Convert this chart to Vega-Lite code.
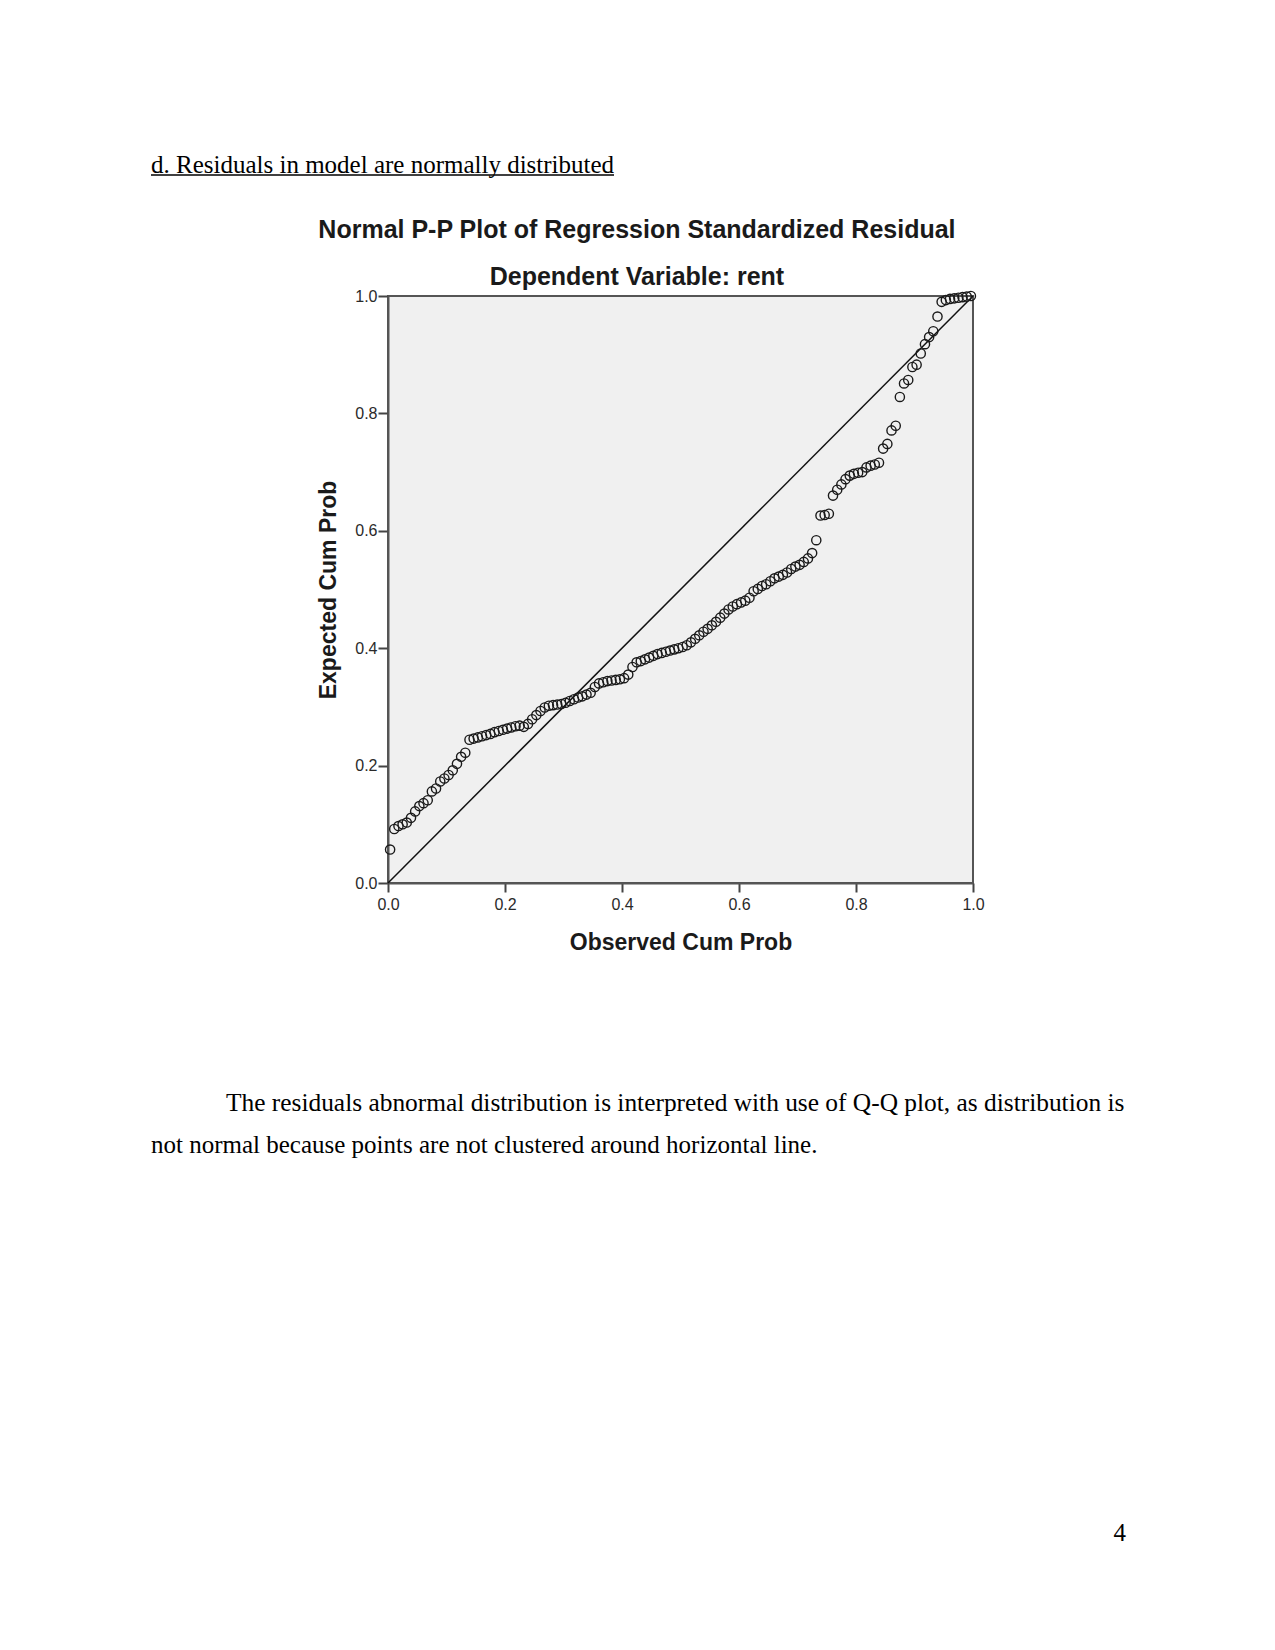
{
"$schema": "https://vega.github.io/schema/vega-lite/v6.json",
"background": "white",
"autosize": {"type": "pad"},
"padding": {"left": 150, "top": 153, "right": 150, "bottom": 106},
"spacing": 0,
"config": {"view": {"stroke": null}, "font": "Liberation Sans"},
"datasets": {
"pp": [
{"obs":0.0036,"exp":0.057},{"obs":0.0107,"exp":0.092},{"obs":0.0179,"exp":0.097},{"obs":0.0250,"exp":0.100},{"obs":0.0321,"exp":0.103},
{"obs":0.0393,"exp":0.111},{"obs":0.0464,"exp":0.122},{"obs":0.0536,"exp":0.131},{"obs":0.0607,"exp":0.136},{"obs":0.0679,"exp":0.141},
{"obs":0.0750,"exp":0.156},{"obs":0.0821,"exp":0.161},{"obs":0.0893,"exp":0.173},{"obs":0.0964,"exp":0.178},{"obs":0.1036,"exp":0.184},
{"obs":0.1107,"exp":0.192},{"obs":0.1179,"exp":0.203},{"obs":0.1250,"exp":0.215},{"obs":0.1321,"exp":0.222},{"obs":0.1393,"exp":0.244},
{"obs":0.1464,"exp":0.246},{"obs":0.1536,"exp":0.248},{"obs":0.1607,"exp":0.250},{"obs":0.1679,"exp":0.252},{"obs":0.1750,"exp":0.254},
{"obs":0.1821,"exp":0.257},{"obs":0.1893,"exp":0.259},{"obs":0.1964,"exp":0.261},{"obs":0.2036,"exp":0.263},{"obs":0.2107,"exp":0.265},
{"obs":0.2179,"exp":0.267},{"obs":0.2250,"exp":0.268},{"obs":0.2321,"exp":0.266},{"obs":0.2393,"exp":0.271},{"obs":0.2464,"exp":0.279},
{"obs":0.2536,"exp":0.286},{"obs":0.2607,"exp":0.293},{"obs":0.2679,"exp":0.299},{"obs":0.2750,"exp":0.302},{"obs":0.2821,"exp":0.303},
{"obs":0.2893,"exp":0.304},{"obs":0.2964,"exp":0.305},{"obs":0.3036,"exp":0.307},{"obs":0.3107,"exp":0.310},{"obs":0.3179,"exp":0.313},
{"obs":0.3250,"exp":0.316},{"obs":0.3321,"exp":0.318},{"obs":0.3393,"exp":0.321},{"obs":0.3464,"exp":0.324},{"obs":0.3536,"exp":0.334},
{"obs":0.3607,"exp":0.340},{"obs":0.3679,"exp":0.342},{"obs":0.3750,"exp":0.344},{"obs":0.3821,"exp":0.345},{"obs":0.3893,"exp":0.346},
{"obs":0.3964,"exp":0.347},{"obs":0.4036,"exp":0.349},{"obs":0.4107,"exp":0.355},{"obs":0.4179,"exp":0.368},{"obs":0.4250,"exp":0.376},
{"obs":0.4321,"exp":0.378},{"obs":0.4393,"exp":0.381},{"obs":0.4464,"exp":0.384},{"obs":0.4536,"exp":0.387},{"obs":0.4607,"exp":0.390},
{"obs":0.4679,"exp":0.392},{"obs":0.4750,"exp":0.394},{"obs":0.4821,"exp":0.396},{"obs":0.4893,"exp":0.398},{"obs":0.4964,"exp":0.400},
{"obs":0.5036,"exp":0.402},{"obs":0.5107,"exp":0.405},{"obs":0.5179,"exp":0.410},{"obs":0.5250,"exp":0.416},{"obs":0.5321,"exp":0.422},
{"obs":0.5393,"exp":0.428},{"obs":0.5464,"exp":0.433},{"obs":0.5536,"exp":0.439},{"obs":0.5607,"exp":0.445},{"obs":0.5679,"exp":0.452},
{"obs":0.5750,"exp":0.459},{"obs":0.5821,"exp":0.466},{"obs":0.5893,"exp":0.471},{"obs":0.5964,"exp":0.475},{"obs":0.6036,"exp":0.478},
{"obs":0.6107,"exp":0.481},{"obs":0.6179,"exp":0.486},{"obs":0.6250,"exp":0.497},{"obs":0.6321,"exp":0.501},{"obs":0.6393,"exp":0.506},
{"obs":0.6464,"exp":0.509},{"obs":0.6536,"exp":0.514},{"obs":0.6607,"exp":0.519},{"obs":0.6679,"exp":0.522},{"obs":0.6750,"exp":0.525},
{"obs":0.6821,"exp":0.529},{"obs":0.6893,"exp":0.535},{"obs":0.6964,"exp":0.539},{"obs":0.7036,"exp":0.542},{"obs":0.7107,"exp":0.547},
{"obs":0.7179,"exp":0.553},{"obs":0.7250,"exp":0.562},{"obs":0.7321,"exp":0.584},{"obs":0.7393,"exp":0.626},{"obs":0.7464,"exp":0.627},
{"obs":0.7536,"exp":0.629},{"obs":0.7607,"exp":0.660},{"obs":0.7679,"exp":0.670},{"obs":0.7750,"exp":0.679},{"obs":0.7821,"exp":0.688},
{"obs":0.7893,"exp":0.694},{"obs":0.7964,"exp":0.697},{"obs":0.8036,"exp":0.699},{"obs":0.8107,"exp":0.700},{"obs":0.8179,"exp":0.708},
{"obs":0.8250,"exp":0.711},{"obs":0.8321,"exp":0.713},{"obs":0.8393,"exp":0.716},{"obs":0.8464,"exp":0.740},{"obs":0.8536,"exp":0.748},
{"obs":0.8607,"exp":0.771},{"obs":0.8679,"exp":0.779},{"obs":0.8750,"exp":0.828},{"obs":0.8821,"exp":0.851},{"obs":0.8893,"exp":0.857},
{"obs":0.8964,"exp":0.879},{"obs":0.9036,"exp":0.883},{"obs":0.9107,"exp":0.902},{"obs":0.9179,"exp":0.918},{"obs":0.9250,"exp":0.930},
{"obs":0.9321,"exp":0.940},{"obs":0.9393,"exp":0.965},{"obs":0.9464,"exp":0.990},{"obs":0.9536,"exp":0.993},{"obs":0.9607,"exp":0.995},
{"obs":0.9679,"exp":0.996},{"obs":0.9750,"exp":0.997},{"obs":0.9821,"exp":0.998},{"obs":0.9893,"exp":0.999},{"obs":0.9964,"exp":1.000}
],
"diag": [{"obs":0,"exp":0},{"obs":1,"exp":1}],
"para": [
{"line":1,"text":"The residuals abnormal distribution is interpreted with use of Q-Q plot, as distribution is"},
{"line":2,"text":"not normal because points are not clustered around horizontal line."}
]
},
"vconcat": [
{
"width": 463, "height": 42,
"data": {"values": [{"t": "d. Residuals in model are normally distributed"}]},
"layer": [
{"mark": {"type": "text", "align": "left", "baseline": "alphabetic", "font": "Liberation Serif", "fontSize": 25, "color": "black", "dy": -2},
 "encoding": {"text": {"field": "t"}, "x": {"value": 0}, "y": {"value": 0}}},
{"mark": {"type": "rule", "color": "black", "strokeWidth": 1.5},
 "encoding": {"x": {"value": 0}, "x2": {"value": "width"}, "y": {"value": 0}}}
]
},
{
"hconcat": [
{"width": 237, "height": 587, "data": {"values": []}, "mark": "point", "encoding": {}},
{
"width": 585, "height": 587,
"view": {"fill": "#f0f0f0", "stroke": "#555555", "strokeWidth": 2},
"title": {"text": "Normal P-P Plot of Regression Standardized Residual", "subtitle": "Dependent Variable: rent",
 "font": "Liberation Sans", "fontSize": 25, "fontWeight": "bold", "color": "#1a1a1a",
 "subtitleFont": "Liberation Sans", "subtitleFontSize": 25, "subtitleFontWeight": "bold", "subtitleColor": "#1a1a1a",
 "subtitlePadding": 22, "offset": -2, "dx": -14, "anchor": "middle", "frame": "bounds"},
"layer": [
{"data": {"name": "diag"},
 "mark": {"type": "line", "color": "#111111", "strokeWidth": 1.5},
 "encoding": {"x": {"field": "obs", "type": "quantitative"}, "y": {"field": "exp", "type": "quantitative"}}},
{"data": {"name": "pp"},
 "mark": {"type": "point", "shape": "circle", "filled": false, "size": 85, "stroke": "#1a1a1a", "strokeWidth": 1.4, "opacity": 1},
 "encoding": {
  "x": {"field": "obs", "type": "quantitative",
   "scale": {"domain": [0, 1], "nice": false, "zero": false},
   "axis": {"title": "Observed Cum Prob", "values": [0, 0.2, 0.4, 0.6, 0.8, 1], "format": ".1f", "grid": false,
    "domainColor": "#555555", "domainWidth": 2, "tickColor": "#444444", "tickWidth": 2, "tickSize": 9,
    "labelFont": "Liberation Sans", "labelFontSize": 16, "labelColor": "#2a2a2a", "labelPadding": 4, "labelFlush": false, "labelOverlap": false,
    "titleFont": "Liberation Sans", "titleFontSize": 23, "titleFontWeight": "bold", "titleColor": "#1a1a1a", "titlePadding": 19}},
  "y": {"field": "exp", "type": "quantitative",
   "scale": {"domain": [0, 1], "nice": false, "zero": false},
   "axis": {"title": "Expected Cum Prob", "values": [0, 0.2, 0.4, 0.6, 0.8, 1], "format": ".1f", "grid": false,
    "domainColor": "#555555", "domainWidth": 2, "tickColor": "#444444", "tickWidth": 2, "tickSize": 10,
    "labelFont": "Liberation Sans", "labelFontSize": 16, "labelColor": "#2a2a2a", "labelPadding": 1, "labelFlush": false, "labelOverlap": false,
    "titleFont": "Liberation Sans", "titleFontSize": 23, "titleFontWeight": "bold", "titleColor": "#1a1a1a", "titlePadding": 14}}
 }}
]
}
],
"spacing": 0,
"bounds": "flush"
},
{"width": 10, "height": 136, "data": {"values": []}, "mark": "point", "encoding": {}},
{
"width": 975, "height": 42,
"data": {"name": "para"},
"layer": [
{"transform": [{"filter": "datum.line == 1"}],
 "mark": {"type": "text", "align": "left", "baseline": "alphabetic", "font": "Liberation Serif", "fontSize": 25.4, "color": "black", "dx": 75},
 "encoding": {"text": {"field": "text"}, "x": {"value": 0}, "y": {"value": 0}}},
{"transform": [{"filter": "datum.line == 2"}],
 "mark": {"type": "text", "align": "left", "baseline": "alphabetic", "font": "Liberation Serif", "fontSize": 25, "color": "black"},
 "encoding": {"text": {"field": "text"}, "x": {"value": 0}, "y": {"value": "height"}}}
]
},
{
"width": 975, "height": 383,
"data": {"values": [{"p": "4"}]},
"mark": {"type": "text", "align": "right", "baseline": "alphabetic", "font": "Liberation Serif", "fontSize": 25, "color": "black"},
"encoding": {"text": {"field": "p"}, "x": {"value": "width"}, "y": {"value": "height"}}
}
]
}
